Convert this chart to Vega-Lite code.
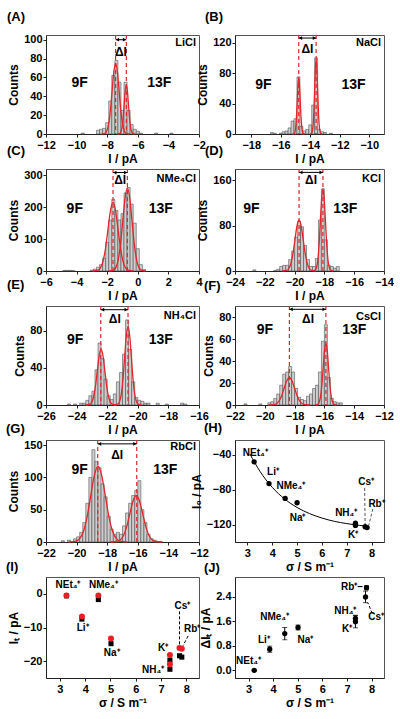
{
"$schema":"https://vega.github.io/schema/vega-lite/v6.json",
"background":"white",
"padding":{"left":5,"top":10,"right":5,"bottom":5},
"config":{"font":"Liberation Sans",
"view":{"stroke":"#555","strokeWidth":1},
"axis":{"labelFontSize":11,"labelFontWeight":"bold","labelColor":"#000","titleFontSize":12,"titleFontWeight":"bold","titleColor":"#000","grid":false,"domainColor":"#222","tickColor":"#222","tickSize":3,"labelPadding":1,"titlePadding":3,"labelFlush":false,"labelOverlap":false},
"title":{"anchor":"start","frame":"group","fontSize":13,"fontWeight":"bold","baseline":"alphabetic","color":"#000","offset":10}},
"datasets":{
"hA":[{"a":-9.7,"b":-9.5,"n":1},{"a":-8.7,"b":-8.5,"n":4},{"a":-8.5,"b":-8.3,"n":5},{"a":-8.3,"b":-8.1,"n":6},{"a":-8.1,"b":-7.9,"n":12},{"a":-7.9,"b":-7.7,"n":35},{"a":-7.7,"b":-7.5,"n":62},{"a":-7.5,"b":-7.3,"n":78},{"a":-7.3,"b":-7.1,"n":55},{"a":-7.1,"b":-6.9,"n":25},{"a":-6.9,"b":-6.7,"n":55},{"a":-6.7,"b":-6.5,"n":25},{"a":-6.5,"b":-6.3,"n":10},{"a":-6.3,"b":-6.1,"n":5},{"a":-6.1,"b":-5.9,"n":3},{"a":-5.9,"b":-5.7,"n":1},{"a":-4.9,"b":-4.7,"n":1},{"a":-3.9,"b":-3.7,"n":1}],
"fA":[{"x":-8.37,"y":0,"g":1},{"x":-8.14,"y":0.8,"g":1},{"x":-8.025,"y":3.3,"g":1},{"x":-7.91,"y":10.1,"g":1},{"x":-7.795,"y":24.4,"g":1},{"x":-7.68,"y":45.5,"g":1},{"x":-7.565,"y":66.2,"g":1},{"x":-7.45,"y":75,"g":1},{"x":-7.335,"y":66.2,"g":1},{"x":-7.22,"y":45.5,"g":1},{"x":-7.105,"y":24.4,"g":1},{"x":-6.99,"y":10.1,"g":1},{"x":-6.875,"y":3.3,"g":1},{"x":-6.76,"y":0.8,"g":1},{"x":-6.53,"y":0,"g":1},
{"x":-7.31,"y":0,"g":2},{"x":-7.17,"y":0.6,"g":2},{"x":-7.1,"y":2.3,"g":2},{"x":-7.03,"y":7,"g":2},{"x":-6.96,"y":16.9,"g":2},{"x":-6.89,"y":31.5,"g":2},{"x":-6.82,"y":45.9,"g":2},{"x":-6.75,"y":52,"g":2},{"x":-6.68,"y":45.9,"g":2},{"x":-6.61,"y":31.5,"g":2},{"x":-6.54,"y":16.9,"g":2},{"x":-6.47,"y":7,"g":2},{"x":-6.4,"y":2.3,"g":2},{"x":-6.33,"y":0.6,"g":2},{"x":-6.19,"y":0,"g":2}],
"dA":[{"p":-7.45},{"p":-6.75}],
"hB":[{"a":-16.7,"b":-16.5,"n":2},{"a":-16.5,"b":-16.3,"n":1},{"a":-16.1,"b":-15.9,"n":1},{"a":-15.9,"b":-15.7,"n":3},{"a":-15.7,"b":-15.5,"n":4},{"a":-15.5,"b":-15.3,"n":8},{"a":-15.3,"b":-15.1,"n":17},{"a":-15.1,"b":-14.9,"n":20},{"a":-14.9,"b":-14.7,"n":75},{"a":-14.7,"b":-14.5,"n":10},{"a":-14.5,"b":-14.3,"n":4},{"a":-14.3,"b":-14.1,"n":6},{"a":-14.1,"b":-13.9,"n":12},{"a":-13.9,"b":-13.7,"n":38},{"a":-13.7,"b":-13.5,"n":100},{"a":-13.5,"b":-13.3,"n":6},{"a":-13.3,"b":-13.1,"n":3},{"a":-13.1,"b":-12.9,"n":2},{"a":-12.7,"b":-12.5,"n":1}],
"fB":[{"x":-15.18,"y":0,"g":1},{"x":-15.08,"y":0.8,"g":1},{"x":-15.03,"y":3.2,"g":1},{"x":-14.98,"y":9.9,"g":1},{"x":-14.93,"y":23.7,"g":1},{"x":-14.88,"y":44.3,"g":1},{"x":-14.83,"y":64.4,"g":1},{"x":-14.78,"y":73,"g":1},{"x":-14.73,"y":64.4,"g":1},{"x":-14.68,"y":44.3,"g":1},{"x":-14.63,"y":23.7,"g":1},{"x":-14.58,"y":9.9,"g":1},{"x":-14.53,"y":3.2,"g":1},{"x":-14.48,"y":0.8,"g":1},{"x":-14.38,"y":0,"g":1},
{"x":-14.0,"y":0,"g":2},{"x":-13.9,"y":1.1,"g":2},{"x":-13.85,"y":4.3,"g":2},{"x":-13.8,"y":13.3,"g":2},{"x":-13.75,"y":31.8,"g":2},{"x":-13.7,"y":59.4,"g":2},{"x":-13.65,"y":86.5,"g":2},{"x":-13.6,"y":98,"g":2},{"x":-13.55,"y":86.5,"g":2},{"x":-13.5,"y":59.4,"g":2},{"x":-13.45,"y":31.8,"g":2},{"x":-13.4,"y":13.3,"g":2},{"x":-13.35,"y":4.3,"g":2},{"x":-13.3,"y":1.1,"g":2},{"x":-13.2,"y":0,"g":2}],
"dB":[{"p":-14.78},{"p":-13.6}],
"hC":[{"a":-4.9,"b":-4.7,"n":2},{"a":-4.7,"b":-4.5,"n":2},{"a":-4.5,"b":-4.3,"n":2},{"a":-4.3,"b":-4.1,"n":1},{"a":-3.1,"b":-2.9,"n":3},{"a":-2.9,"b":-2.7,"n":6},{"a":-2.7,"b":-2.5,"n":12},{"a":-2.5,"b":-2.3,"n":20},{"a":-2.3,"b":-2.1,"n":40},{"a":-2.1,"b":-1.9,"n":90},{"a":-1.9,"b":-1.7,"n":160},{"a":-1.7,"b":-1.5,"n":225},{"a":-1.5,"b":-1.3,"n":190},{"a":-1.3,"b":-1.1,"n":160},{"a":-1.1,"b":-0.9,"n":180},{"a":-0.9,"b":-0.7,"n":245},{"a":-0.7,"b":-0.5,"n":262},{"a":-0.5,"b":-0.3,"n":210},{"a":-0.3,"b":-0.1,"n":150},{"a":-0.1,"b":0.1,"n":70},{"a":0.1,"b":0.3,"n":20},{"a":0.3,"b":0.5,"n":5}],
"fC":[{"x":-2.94,"y":0,"g":1},{"x":-2.61,"y":2.4,"g":1},{"x":-2.445,"y":9.4,"g":1},{"x":-2.28,"y":29.1,"g":1},{"x":-2.115,"y":69.8,"g":1},{"x":-1.95,"y":130.4,"g":1},{"x":-1.785,"y":189.7,"g":1},{"x":-1.62,"y":215,"g":1},{"x":-1.455,"y":189.7,"g":1},{"x":-1.29,"y":130.4,"g":1},{"x":-1.125,"y":69.8,"g":1},{"x":-0.96,"y":29.1,"g":1},{"x":-0.795,"y":9.4,"g":1},{"x":-0.63,"y":2.4,"g":1},{"x":-0.3,"y":0,"g":1},
{"x":-1.88,"y":0,"g":2},{"x":-1.58,"y":2.9,"g":2},{"x":-1.43,"y":11.4,"g":2},{"x":-1.28,"y":35.2,"g":2},{"x":-1.13,"y":84.4,"g":2},{"x":-0.98,"y":157.7,"g":2},{"x":-0.83,"y":229.5,"g":2},{"x":-0.68,"y":260,"g":2},{"x":-0.53,"y":229.5,"g":2},{"x":-0.38,"y":157.7,"g":2},{"x":-0.23,"y":84.4,"g":2},{"x":-0.08,"y":35.2,"g":2},{"x":0.07,"y":11.4,"g":2},{"x":0.22,"y":2.9,"g":2},{"x":0.52,"y":0,"g":2}],
"dC":[{"p":-1.62},{"p":-0.68}],
"hD":[{"a":-22.8,"b":-22.6,"n":2},{"a":-21.4,"b":-21.2,"n":1},{"a":-21.2,"b":-21.0,"n":3},{"a":-21.0,"b":-20.8,"n":8},{"a":-20.8,"b":-20.6,"n":10},{"a":-20.6,"b":-20.4,"n":10},{"a":-20.4,"b":-20.2,"n":20},{"a":-20.2,"b":-20.0,"n":35},{"a":-20.0,"b":-19.8,"n":60},{"a":-19.8,"b":-19.6,"n":88},{"a":-19.6,"b":-19.4,"n":78},{"a":-19.4,"b":-19.2,"n":45},{"a":-19.2,"b":-19.0,"n":20},{"a":-19.0,"b":-18.8,"n":8},{"a":-18.8,"b":-18.6,"n":8},{"a":-18.6,"b":-18.4,"n":22},{"a":-18.4,"b":-18.2,"n":90},{"a":-18.2,"b":-18.0,"n":145},{"a":-18.0,"b":-17.8,"n":55},{"a":-17.8,"b":-17.6,"n":10},{"a":-17.6,"b":-17.4,"n":8},{"a":-17.4,"b":-17.2,"n":5},{"a":-17.2,"b":-17.0,"n":8}],
"fD":[{"x":-20.82,"y":0,"g":1},{"x":-20.54,"y":1,"g":1},{"x":-20.4,"y":4,"g":1},{"x":-20.26,"y":12.2,"g":1},{"x":-20.12,"y":29.2,"g":1},{"x":-19.98,"y":54.6,"g":1},{"x":-19.84,"y":79.4,"g":1},{"x":-19.7,"y":90,"g":1},{"x":-19.56,"y":79.4,"g":1},{"x":-19.42,"y":54.6,"g":1},{"x":-19.28,"y":29.2,"g":1},{"x":-19.14,"y":12.2,"g":1},{"x":-19.0,"y":4,"g":1},{"x":-18.86,"y":1,"g":1},{"x":-18.58,"y":0,"g":1},
{"x":-18.78,"y":0,"g":2},{"x":-18.61,"y":1.6,"g":2},{"x":-18.525,"y":6.4,"g":2},{"x":-18.44,"y":19.6,"g":2},{"x":-18.355,"y":47.1,"g":2},{"x":-18.27,"y":87.9,"g":2},{"x":-18.185,"y":128,"g":2},{"x":-18.1,"y":145,"g":2},{"x":-18.015,"y":128,"g":2},{"x":-17.93,"y":87.9,"g":2},{"x":-17.845,"y":47.1,"g":2},{"x":-17.76,"y":19.6,"g":2},{"x":-17.675,"y":6.4,"g":2},{"x":-17.59,"y":1.6,"g":2},{"x":-17.42,"y":0,"g":2}],
"dD":[{"p":-19.7},{"p":-18.1}],
"hE":[{"a":-24.6,"b":-24.4,"n":1},{"a":-24.2,"b":-24.0,"n":1},{"a":-23.8,"b":-23.6,"n":2},{"a":-23.6,"b":-23.4,"n":2},{"a":-23.4,"b":-23.2,"n":5},{"a":-23.2,"b":-23.0,"n":10},{"a":-23.0,"b":-22.8,"n":15},{"a":-22.8,"b":-22.6,"n":38},{"a":-22.6,"b":-22.4,"n":67},{"a":-22.4,"b":-22.2,"n":50},{"a":-22.2,"b":-22.0,"n":28},{"a":-22.0,"b":-21.8,"n":10},{"a":-21.8,"b":-21.6,"n":6},{"a":-21.6,"b":-21.4,"n":12},{"a":-21.4,"b":-21.2,"n":25},{"a":-21.2,"b":-21.0,"n":35},{"a":-21.0,"b":-20.8,"n":55},{"a":-20.8,"b":-20.6,"n":92},{"a":-20.6,"b":-20.4,"n":60},{"a":-20.4,"b":-20.2,"n":25},{"a":-20.2,"b":-20.0,"n":8},{"a":-20.0,"b":-19.8,"n":5},{"a":-19.8,"b":-19.6,"n":4},{"a":-19.6,"b":-19.4,"n":2},{"a":-19.4,"b":-19.2,"n":2},{"a":-18.8,"b":-18.6,"n":2},{"a":-18.2,"b":-18.0,"n":1},{"a":-17.2,"b":-17.0,"n":2},{"a":-17.0,"b":-16.8,"n":1}],
"fE":[{"x":-23.4,"y":0,"g":1},{"x":-23.15,"y":0.7,"g":1},{"x":-23.025,"y":2.6,"g":1},{"x":-22.9,"y":8.1,"g":1},{"x":-22.775,"y":19.5,"g":1},{"x":-22.65,"y":36.4,"g":1},{"x":-22.525,"y":53,"g":1},{"x":-22.4,"y":60,"g":1},{"x":-22.275,"y":53,"g":1},{"x":-22.15,"y":36.4,"g":1},{"x":-22.025,"y":19.5,"g":1},{"x":-21.9,"y":8.1,"g":1},{"x":-21.775,"y":2.6,"g":1},{"x":-21.65,"y":0.7,"g":1},{"x":-21.4,"y":0,"g":1},
{"x":-21.52,"y":0,"g":2},{"x":-21.3,"y":0.9,"g":2},{"x":-21.19,"y":3.7,"g":2},{"x":-21.08,"y":11.5,"g":2},{"x":-20.97,"y":27.6,"g":2},{"x":-20.86,"y":51.6,"g":2},{"x":-20.75,"y":75,"g":2},{"x":-20.64,"y":85,"g":2},{"x":-20.53,"y":75,"g":2},{"x":-20.42,"y":51.6,"g":2},{"x":-20.31,"y":27.6,"g":2},{"x":-20.2,"y":11.5,"g":2},{"x":-20.09,"y":3.7,"g":2},{"x":-19.98,"y":0.9,"g":2},{"x":-19.76,"y":0,"g":2}],
"dE":[{"p":-22.42},{"p":-20.64}],
"hF":[{"a":-21.4,"b":-21.2,"n":1},{"a":-20.4,"b":-20.2,"n":1},{"a":-19.8,"b":-19.6,"n":2},{"a":-19.6,"b":-19.4,"n":3},{"a":-19.4,"b":-19.2,"n":6},{"a":-19.2,"b":-19.0,"n":10},{"a":-19.0,"b":-18.8,"n":18},{"a":-18.8,"b":-18.6,"n":28},{"a":-18.6,"b":-18.4,"n":30},{"a":-18.4,"b":-18.2,"n":35},{"a":-18.2,"b":-18.0,"n":30},{"a":-18.0,"b":-17.8,"n":15},{"a":-17.8,"b":-17.6,"n":7},{"a":-17.6,"b":-17.4,"n":5},{"a":-17.4,"b":-17.2,"n":4},{"a":-17.2,"b":-17.0,"n":8},{"a":-17.0,"b":-16.8,"n":10},{"a":-16.8,"b":-16.6,"n":15},{"a":-16.6,"b":-16.4,"n":18},{"a":-16.4,"b":-16.2,"n":30},{"a":-16.2,"b":-16.0,"n":58},{"a":-16.0,"b":-15.8,"n":73},{"a":-15.8,"b":-15.6,"n":25},{"a":-15.6,"b":-15.4,"n":6},{"a":-15.4,"b":-15.2,"n":3},{"a":-15.2,"b":-15.0,"n":2},{"a":-15.0,"b":-14.8,"n":2}],
"fF":[{"x":-19.75,"y":0,"g":1},{"x":-19.4,"y":0.3,"g":1},{"x":-19.225,"y":1.1,"g":1},{"x":-19.05,"y":3.4,"g":1},{"x":-18.875,"y":8.1,"g":1},{"x":-18.7,"y":15.2,"g":1},{"x":-18.525,"y":22.1,"g":1},{"x":-18.35,"y":25,"g":1},{"x":-18.175,"y":22.1,"g":1},{"x":-18.0,"y":15.2,"g":1},{"x":-17.825,"y":8.1,"g":1},{"x":-17.65,"y":3.4,"g":1},{"x":-17.475,"y":1.1,"g":1},{"x":-17.3,"y":0.3,"g":1},{"x":-16.95,"y":0,"g":1},
{"x":-16.62,"y":0,"g":2},{"x":-16.44,"y":0.6,"g":2},{"x":-16.35,"y":2.5,"g":2},{"x":-16.26,"y":7.6,"g":2},{"x":-16.17,"y":18.2,"g":2},{"x":-16.08,"y":34,"g":2},{"x":-15.99,"y":49.4,"g":2},{"x":-15.9,"y":56,"g":2},{"x":-15.81,"y":49.4,"g":2},{"x":-15.72,"y":34,"g":2},{"x":-15.63,"y":18.2,"g":2},{"x":-15.54,"y":7.6,"g":2},{"x":-15.45,"y":2.5,"g":2},{"x":-15.36,"y":0.6,"g":2},{"x":-15.18,"y":0,"g":2}],
"dF":[{"p":-18.35},{"p":-15.9}],
"hG":[{"a":-21.0,"b":-20.8,"n":2},{"a":-20.6,"b":-20.4,"n":3},{"a":-20.2,"b":-20.0,"n":5},{"a":-20.0,"b":-19.8,"n":8},{"a":-19.8,"b":-19.6,"n":15},{"a":-19.6,"b":-19.4,"n":30},{"a":-19.4,"b":-19.2,"n":60},{"a":-19.2,"b":-19.0,"n":100},{"a":-19.0,"b":-18.8,"n":143},{"a":-18.8,"b":-18.6,"n":125},{"a":-18.6,"b":-18.4,"n":115},{"a":-18.4,"b":-18.2,"n":90},{"a":-18.2,"b":-18.0,"n":70},{"a":-18.0,"b":-17.8,"n":40},{"a":-17.8,"b":-17.6,"n":20},{"a":-17.6,"b":-17.4,"n":12},{"a":-17.4,"b":-17.2,"n":15},{"a":-17.2,"b":-17.0,"n":12},{"a":-17.0,"b":-16.8,"n":25},{"a":-16.8,"b":-16.6,"n":45},{"a":-16.6,"b":-16.4,"n":60},{"a":-16.4,"b":-16.2,"n":72},{"a":-16.2,"b":-16.0,"n":80},{"a":-16.0,"b":-15.8,"n":95},{"a":-15.8,"b":-15.6,"n":50},{"a":-15.6,"b":-15.4,"n":30},{"a":-15.4,"b":-15.2,"n":12},{"a":-15.2,"b":-15.0,"n":5},{"a":-15.0,"b":-14.8,"n":3},{"a":-14.6,"b":-14.4,"n":1}],
"fG":[{"x":-20.52,"y":0,"g":1},{"x":-20.04,"y":1.3,"g":1},{"x":-19.8,"y":5.1,"g":1},{"x":-19.56,"y":15.8,"g":1},{"x":-19.32,"y":38,"g":1},{"x":-19.08,"y":71,"g":1},{"x":-18.84,"y":103.3,"g":1},{"x":-18.6,"y":117,"g":1},{"x":-18.36,"y":103.3,"g":1},{"x":-18.12,"y":71,"g":1},{"x":-17.88,"y":38,"g":1},{"x":-17.64,"y":15.8,"g":1},{"x":-17.4,"y":5.1,"g":1},{"x":-17.16,"y":1.3,"g":1},{"x":-16.68,"y":0,"g":1},
{"x":-17.78,"y":0,"g":2},{"x":-17.36,"y":0.8,"g":2},{"x":-17.15,"y":3.2,"g":2},{"x":-16.94,"y":9.7,"g":2},{"x":-16.73,"y":23.4,"g":2},{"x":-16.52,"y":43.7,"g":2},{"x":-16.31,"y":63.5,"g":2},{"x":-16.1,"y":72,"g":2},{"x":-15.89,"y":63.5,"g":2},{"x":-15.68,"y":43.7,"g":2},{"x":-15.47,"y":23.4,"g":2},{"x":-15.26,"y":9.7,"g":2},{"x":-15.05,"y":3.2,"g":2},{"x":-14.84,"y":0.8,"g":2},{"x":-14.42,"y":0,"g":2}],
"dG":[{"p":-18.62},{"p":-16.07}],
"cH":[{"s":3.1,"v":-39},{"s":3.5,"v":-58.7},{"s":4.0,"v":-77.3},{"s":4.5,"v":-90.7},{"s":5.0,"v":-100.4},{"s":5.5,"v":-107.4},{"s":6.0,"v":-112.5},{"s":6.5,"v":-116.3},{"s":7.0,"v":-118.9},{"s":7.5,"v":-120.9},{"s":7.8,"v":-121.8}],
"pH":[{"s":3.27,"v":-48},{"s":3.87,"v":-73},{"s":4.52,"v":-90},{"s":5.0,"v":-95},{"s":7.35,"v":-118.5},{"s":7.35,"v":-121},{"s":7.74,"v":-122.5},{"s":7.82,"v":-123.5}],
"gH":[{"x1":7.72,"y1":-78,"x2":7.74,"y2":-120},{"x1":8.05,"y1":-102,"x2":7.88,"y2":-121.5}],
"lH":[{"t":"NEt₄⁺","x":3.32,"y":-38},{"t":"Li⁺","x":4.03,"y":-60},{"t":"NMe₄⁺","x":4.75,"y":-76},{"t":"Na⁺","x":5.02,"y":-112},{"t":"NH₄⁺","x":6.98,"y":-107},{"t":"K⁺","x":7.26,"y":-132},{"t":"Cs⁺","x":7.78,"y":-71},{"t":"Rb⁺","x":8.2,"y":-96}],
"pI":[{"s":3.26,"r":-0.5,"b":-0.6},{"s":3.87,"r":-6.7,"b":-7.5},{"s":4.52,"r":-0.5,"b":-1.7},{"s":5.02,"r":-13.3,"b":-14.8},{"s":7.35,"r":-18.2,"b":-19.7},{"s":7.35,"r":-20.9,"b":-22.4},{"s":7.73,"r":-16.1,"b":-18.4},{"s":7.82,"r":-16.3,"b":-18.8}],
"gI":[{"x1":7.73,"y1":-5.2,"x2":7.73,"y2":-15.3},{"x1":8.07,"y1":-12.5,"x2":7.87,"y2":-15.4}],
"lI":[{"t":"NEt₄⁺","x":3.32,"y":2.5},{"t":"NMe₄⁺","x":4.72,"y":2.5},{"t":"Li⁺","x":3.9,"y":-10},{"t":"Na⁺","x":5.05,"y":-17.5},{"t":"K⁺","x":7.08,"y":-16},{"t":"NH₄⁺","x":6.69,"y":-22.5},{"t":"Cs⁺","x":7.84,"y":-3.5},{"t":"Rb⁺","x":8.23,"y":-10.5}],
"pJ":[{"s":3.23,"d":0.0,"e":0.02},{"s":3.86,"d":0.69,"e":0.1},{"s":4.47,"d":1.2,"e":0.2},{"s":5.01,"d":1.4,"e":0.08},{"s":7.34,"d":1.7,"e":0.1},{"s":7.34,"d":1.59,"e":0.2},{"s":7.75,"d":2.4,"e":0.19},{"s":7.79,"d":2.7,"e":0.07}],
"gJ":[{"x1":8.02,"y1":1.86,"x2":7.84,"y2":2.22}],
"lJ":[{"t":"NEt₄⁺","x":3.0,"y":0.29},{"t":"Li⁺","x":3.62,"y":1.0},{"t":"NMe₄⁺","x":4.06,"y":1.75},{"t":"Na⁺","x":5.31,"y":1.0},{"t":"NH₄⁺","x":6.93,"y":1.94},{"t":"K⁺","x":7.0,"y":1.35},{"t":"Rb⁺–","x":7.2,"y":2.73},{"t":"Cs⁺","x":8.18,"y":1.73}]
},
"columns":2,
"spacing":{"row":35,"column":36},
"bounds":"flush",
"align":"each",
"concat":[
{"width":153,"height":99,"title":{"text":"(A)","dx":-39,"offset":10},"data":{"values":[{}]},
"layer":[
{"data":{"name":"hA"},"mark":{"type":"bar","fill":"#cdcdcd","stroke":"#3c3c3c","strokeWidth":0.5},"encoding":{"x":{"field":"a","type":"quantitative","scale":{"domain":[-12,-2],"nice":false,"zero":false},"axis":{"values":[-12,-10,-8,-6,-4,-2],"tickCount":20,"format":"d","title":"I / pA","labelOverlap":false,"labelFlush":false,"labelPadding":2}},"x2":{"field":"b"},"y":{"field":"n","type":"quantitative","stack":null,"scale":{"domain":[0,105],"nice":false},"axis":{"values":[0,20,40,60,80,100],"tickCount":20,"format":"d","title":"Counts","labelOverlap":false,"labelFlush":false}},"y2":{"datum":0}}},
{"data":{"name":"fA"},"mark":{"type":"line","color":"#e3262b","strokeWidth":1.3,"interpolate":"monotone"},"encoding":{"x":{"field":"x","type":"quantitative"},"y":{"field":"y","type":"quantitative"},"detail":{"field":"g"}}},
{"data":{"name":"dA"},"mark":{"type":"rule","color":"#e3262b","strokeDash":[4,3],"strokeWidth":1.2},"encoding":{"x":{"field":"p","type":"quantitative"}}},
{"mark":{"type":"rule","color":"#000","strokeWidth":1},"encoding":{"x":{"datum":-7.45},"x2":{"datum":-6.75},"y":{"datum":100}}},
{"mark":{"type":"point","shape":"triangle-left","filled":true,"color":"#000","size":14,"opacity":1},"encoding":{"x":{"datum":-7.33},"y":{"datum":100}}},
{"mark":{"type":"point","shape":"triangle-right","filled":true,"color":"#000","size":14,"opacity":1},"encoding":{"x":{"datum":-6.87},"y":{"datum":100}}},
{"mark":{"type":"text","text":"9F","fontSize":14,"fontWeight":"bold"},"encoding":{"x":{"datum":-9.8},"y":{"datum":54}}},
{"mark":{"type":"text","text":"13F","fontSize":14,"fontWeight":"bold"},"encoding":{"x":{"datum":-4.6},"y":{"datum":54}}},
{"mark":{"type":"text","text":"ΔI","fontSize":12,"fontWeight":"bold"},"encoding":{"x":{"datum":-7.1},"y":{"datum":87}}},
{"mark":{"type":"text","text":"LiCl","fontSize":11,"fontWeight":"bold","align":"right","dx":-3},"encoding":{"x":{"datum":-2},"y":{"datum":96}}}
]},
{"width":149,"height":99,"title":{"text":"(B)","dx":-30,"offset":10},"data":{"values":[{}]},
"layer":[
{"data":{"name":"hB"},"mark":{"type":"bar","fill":"#cdcdcd","stroke":"#3c3c3c","strokeWidth":0.5},"encoding":{"x":{"field":"a","type":"quantitative","scale":{"domain":[-19.1,-9],"nice":false,"zero":false},"axis":{"values":[-18,-16,-14,-12,-10],"tickCount":20,"format":"d","title":"I / pA","labelOverlap":false,"labelFlush":false,"labelPadding":2}},"x2":{"field":"b"},"y":{"field":"n","type":"quantitative","stack":null,"scale":{"domain":[0,130],"nice":false},"axis":{"values":[0,40,80,120],"tickCount":20,"format":"d","title":"Counts","labelOverlap":false,"labelFlush":false}},"y2":{"datum":0}}},
{"data":{"name":"fB"},"mark":{"type":"line","color":"#e3262b","strokeWidth":1.3,"interpolate":"monotone"},"encoding":{"x":{"field":"x","type":"quantitative"},"y":{"field":"y","type":"quantitative"},"detail":{"field":"g"}}},
{"data":{"name":"dB"},"mark":{"type":"rule","color":"#e3262b","strokeDash":[4,3],"strokeWidth":1.2},"encoding":{"x":{"field":"p","type":"quantitative"}}},
{"mark":{"type":"rule","color":"#000","strokeWidth":1},"encoding":{"x":{"datum":-14.78},"x2":{"datum":-13.6},"y":{"datum":126}}},
{"mark":{"type":"point","shape":"triangle-left","filled":true,"color":"#000","size":14,"opacity":1},"encoding":{"x":{"datum":-14.66},"y":{"datum":126}}},
{"mark":{"type":"point","shape":"triangle-right","filled":true,"color":"#000","size":14,"opacity":1},"encoding":{"x":{"datum":-13.72},"y":{"datum":126}}},
{"mark":{"type":"text","text":"9F","fontSize":14,"fontWeight":"bold"},"encoding":{"x":{"datum":-17.17},"y":{"datum":64}}},
{"mark":{"type":"text","text":"13F","fontSize":14,"fontWeight":"bold"},"encoding":{"x":{"datum":-11.07},"y":{"datum":64}}},
{"mark":{"type":"text","text":"ΔI","fontSize":12,"fontWeight":"bold"},"encoding":{"x":{"datum":-14.19},"y":{"datum":112}}},
{"mark":{"type":"text","text":"NaCl","fontSize":11,"fontWeight":"bold","align":"right","dx":-3},"encoding":{"x":{"datum":-9},"y":{"datum":120}}}
]},
{"width":153,"height":102,"title":{"text":"(C)","dx":-39,"offset":10},"data":{"values":[{}]},
"layer":[
{"data":{"name":"hC"},"mark":{"type":"bar","fill":"#cdcdcd","stroke":"#3c3c3c","strokeWidth":0.5},"encoding":{"x":{"field":"a","type":"quantitative","scale":{"domain":[-6,4],"nice":false,"zero":false},"axis":{"values":[-6,-4,-2,0,2,4],"tickCount":20,"format":"d","title":"I / pA","labelOverlap":false,"labelFlush":false,"labelPadding":2}},"x2":{"field":"b"},"y":{"field":"n","type":"quantitative","stack":null,"scale":{"domain":[0,320],"nice":false},"axis":{"values":[0,100,200,300],"tickCount":20,"format":"d","title":"Counts","labelOverlap":false,"labelFlush":false}},"y2":{"datum":0}}},
{"data":{"name":"fC"},"mark":{"type":"line","color":"#e3262b","strokeWidth":1.3,"interpolate":"monotone"},"encoding":{"x":{"field":"x","type":"quantitative"},"y":{"field":"y","type":"quantitative"},"detail":{"field":"g"}}},
{"data":{"name":"dC"},"mark":{"type":"rule","color":"#e3262b","strokeDash":[4,3],"strokeWidth":1.2},"encoding":{"x":{"field":"p","type":"quantitative"}}},
{"mark":{"type":"rule","color":"#000","strokeWidth":1},"encoding":{"x":{"datum":-1.62},"x2":{"datum":-0.68},"y":{"datum":309}}},
{"mark":{"type":"point","shape":"triangle-left","filled":true,"color":"#000","size":14,"opacity":1},"encoding":{"x":{"datum":-1.5},"y":{"datum":309}}},
{"mark":{"type":"point","shape":"triangle-right","filled":true,"color":"#000","size":14,"opacity":1},"encoding":{"x":{"datum":-0.8},"y":{"datum":309}}},
{"mark":{"type":"text","text":"9F","fontSize":14,"fontWeight":"bold"},"encoding":{"x":{"datum":-4.12},"y":{"datum":196}}},
{"mark":{"type":"text","text":"13F","fontSize":14,"fontWeight":"bold"},"encoding":{"x":{"datum":1.5},"y":{"datum":196}}},
{"mark":{"type":"text","text":"ΔI","fontSize":12,"fontWeight":"bold"},"encoding":{"x":{"datum":-1.15},"y":{"datum":285}}},
{"mark":{"type":"text","text":"NMe₄Cl","fontSize":11,"fontWeight":"bold","align":"right","dx":-3},"encoding":{"x":{"datum":4},"y":{"datum":290}}}
]},
{"width":149,"height":102,"title":{"text":"(D)","dx":-30,"offset":10},"data":{"values":[{}]},
"layer":[
{"data":{"name":"hD"},"mark":{"type":"bar","fill":"#cdcdcd","stroke":"#3c3c3c","strokeWidth":0.5},"encoding":{"x":{"field":"a","type":"quantitative","scale":{"domain":[-24,-14],"nice":false,"zero":false},"axis":{"values":[-24,-22,-20,-18,-16,-14],"tickCount":20,"format":"d","title":"I / pA","labelOverlap":false,"labelFlush":false,"labelPadding":2}},"x2":{"field":"b"},"y":{"field":"n","type":"quantitative","stack":null,"scale":{"domain":[0,180],"nice":false},"axis":{"values":[0,80,160],"tickCount":20,"format":"d","title":"Counts","labelOverlap":false,"labelFlush":false}},"y2":{"datum":0}}},
{"data":{"name":"fD"},"mark":{"type":"line","color":"#e3262b","strokeWidth":1.3,"interpolate":"monotone"},"encoding":{"x":{"field":"x","type":"quantitative"},"y":{"field":"y","type":"quantitative"},"detail":{"field":"g"}}},
{"data":{"name":"dD"},"mark":{"type":"rule","color":"#e3262b","strokeDash":[4,3],"strokeWidth":1.2},"encoding":{"x":{"field":"p","type":"quantitative"}}},
{"mark":{"type":"rule","color":"#000","strokeWidth":1},"encoding":{"x":{"datum":-19.7},"x2":{"datum":-18.1},"y":{"datum":174}}},
{"mark":{"type":"point","shape":"triangle-left","filled":true,"color":"#000","size":14,"opacity":1},"encoding":{"x":{"datum":-19.58},"y":{"datum":174}}},
{"mark":{"type":"point","shape":"triangle-right","filled":true,"color":"#000","size":14,"opacity":1},"encoding":{"x":{"datum":-18.22},"y":{"datum":174}}},
{"mark":{"type":"text","text":"9F","fontSize":14,"fontWeight":"bold"},"encoding":{"x":{"datum":-22.9},"y":{"datum":110}}},
{"mark":{"type":"text","text":"13F","fontSize":14,"fontWeight":"bold"},"encoding":{"x":{"datum":-16.6},"y":{"datum":110}}},
{"mark":{"type":"text","text":"ΔI","fontSize":12,"fontWeight":"bold"},"encoding":{"x":{"datum":-18.9},"y":{"datum":160}}},
{"mark":{"type":"text","text":"KCl","fontSize":11,"fontWeight":"bold","align":"right","dx":-3},"encoding":{"x":{"datum":-14},"y":{"datum":163}}}
]},
{"width":153,"height":99,"title":{"text":"(E)","dx":-39,"offset":13},"data":{"values":[{}]},
"layer":[
{"data":{"name":"hE"},"mark":{"type":"bar","fill":"#cdcdcd","stroke":"#3c3c3c","strokeWidth":0.5},"encoding":{"x":{"field":"a","type":"quantitative","scale":{"domain":[-26,-16],"nice":false,"zero":false},"axis":{"values":[-26,-24,-22,-20,-18,-16],"tickCount":20,"format":"d","title":"I / pA","labelOverlap":false,"labelFlush":false,"labelPadding":2}},"x2":{"field":"b"},"y":{"field":"n","type":"quantitative","stack":null,"scale":{"domain":[0,107],"nice":false},"axis":{"values":[0,40,80],"tickCount":20,"format":"d","title":"Counts","labelOverlap":false,"labelFlush":false}},"y2":{"datum":0}}},
{"data":{"name":"fE"},"mark":{"type":"line","color":"#e3262b","strokeWidth":1.3,"interpolate":"monotone"},"encoding":{"x":{"field":"x","type":"quantitative"},"y":{"field":"y","type":"quantitative"},"detail":{"field":"g"}}},
{"data":{"name":"dE"},"mark":{"type":"rule","color":"#e3262b","strokeDash":[4,3],"strokeWidth":1.2},"encoding":{"x":{"field":"p","type":"quantitative"}}},
{"mark":{"type":"rule","color":"#000","strokeWidth":1},"encoding":{"x":{"datum":-22.42},"x2":{"datum":-20.64},"y":{"datum":103}}},
{"mark":{"type":"point","shape":"triangle-left","filled":true,"color":"#000","size":14,"opacity":1},"encoding":{"x":{"datum":-22.3},"y":{"datum":103}}},
{"mark":{"type":"point","shape":"triangle-right","filled":true,"color":"#000","size":14,"opacity":1},"encoding":{"x":{"datum":-20.76},"y":{"datum":103}}},
{"mark":{"type":"text","text":"9F","fontSize":14,"fontWeight":"bold"},"encoding":{"x":{"datum":-24.1},"y":{"datum":70}}},
{"mark":{"type":"text","text":"13F","fontSize":14,"fontWeight":"bold"},"encoding":{"x":{"datum":-18.5},"y":{"datum":70}}},
{"mark":{"type":"text","text":"ΔI","fontSize":12,"fontWeight":"bold"},"encoding":{"x":{"datum":-21.5},"y":{"datum":93}}},
{"mark":{"type":"text","text":"NH₄Cl","fontSize":11,"fontWeight":"bold","align":"right","dx":-3},"encoding":{"x":{"datum":-16},"y":{"datum":96}}}
]},
{"width":149,"height":99,"title":{"text":"(F)","dx":-31,"offset":12},"data":{"values":[{}]},
"layer":[
{"data":{"name":"hF"},"mark":{"type":"bar","fill":"#cdcdcd","stroke":"#3c3c3c","strokeWidth":0.5},"encoding":{"x":{"field":"a","type":"quantitative","scale":{"domain":[-22,-12],"nice":false,"zero":false},"axis":{"values":[-22,-20,-18,-16,-14,-12],"tickCount":20,"format":"d","title":"I / pA","labelOverlap":false,"labelFlush":false,"labelPadding":2}},"x2":{"field":"b"},"y":{"field":"n","type":"quantitative","stack":null,"scale":{"domain":[0,90],"nice":false},"axis":{"values":[0,20,40,60,80],"tickCount":20,"format":"d","title":"Counts","labelOverlap":false,"labelFlush":false}},"y2":{"datum":0}}},
{"data":{"name":"fF"},"mark":{"type":"line","color":"#e3262b","strokeWidth":1.3,"interpolate":"monotone"},"encoding":{"x":{"field":"x","type":"quantitative"},"y":{"field":"y","type":"quantitative"},"detail":{"field":"g"}}},
{"data":{"name":"dF"},"mark":{"type":"rule","color":"#e3262b","strokeDash":[4,3],"strokeWidth":1.2},"encoding":{"x":{"field":"p","type":"quantitative"}}},
{"mark":{"type":"rule","color":"#000","strokeWidth":1},"encoding":{"x":{"datum":-18.35},"x2":{"datum":-15.9},"y":{"datum":87}}},
{"mark":{"type":"point","shape":"triangle-left","filled":true,"color":"#000","size":14,"opacity":1},"encoding":{"x":{"datum":-18.23},"y":{"datum":87}}},
{"mark":{"type":"point","shape":"triangle-right","filled":true,"color":"#000","size":14,"opacity":1},"encoding":{"x":{"datum":-16.02},"y":{"datum":87}}},
{"mark":{"type":"text","text":"9F","fontSize":14,"fontWeight":"bold"},"encoding":{"x":{"datum":-20.0},"y":{"datum":68}}},
{"mark":{"type":"text","text":"13F","fontSize":14,"fontWeight":"bold"},"encoding":{"x":{"datum":-14.0},"y":{"datum":68}}},
{"mark":{"type":"text","text":"ΔI","fontSize":12,"fontWeight":"bold"},"encoding":{"x":{"datum":-17.1},"y":{"datum":78}}},
{"mark":{"type":"text","text":"CsCl","fontSize":11,"fontWeight":"bold","align":"right","dx":-3},"encoding":{"x":{"datum":-12},"y":{"datum":80}}}
]},
{"width":153,"height":102,"title":{"text":"(G)","dx":-40,"offset":3},"data":{"values":[{}]},
"layer":[
{"data":{"name":"hG"},"mark":{"type":"bar","fill":"#cdcdcd","stroke":"#3c3c3c","strokeWidth":0.5},"encoding":{"x":{"field":"a","type":"quantitative","scale":{"domain":[-22,-12],"nice":false,"zero":false},"axis":{"values":[-22,-20,-18,-16,-14,-12],"tickCount":20,"format":"d","title":"I / pA","labelOverlap":false,"labelFlush":false,"labelPadding":2}},"x2":{"field":"b"},"y":{"field":"n","type":"quantitative","stack":null,"scale":{"domain":[0,158],"nice":false},"axis":{"values":[0,50,100,150],"tickCount":20,"format":"d","title":"Counts","labelOverlap":false,"labelFlush":false}},"y2":{"datum":0}}},
{"data":{"name":"fG"},"mark":{"type":"line","color":"#e3262b","strokeWidth":1.3,"interpolate":"monotone"},"encoding":{"x":{"field":"x","type":"quantitative"},"y":{"field":"y","type":"quantitative"},"detail":{"field":"g"}}},
{"data":{"name":"dG"},"mark":{"type":"rule","color":"#e3262b","strokeDash":[4,3],"strokeWidth":1.2},"encoding":{"x":{"field":"p","type":"quantitative"}}},
{"mark":{"type":"rule","color":"#000","strokeWidth":1},"encoding":{"x":{"datum":-18.62},"x2":{"datum":-16.07},"y":{"datum":152}}},
{"mark":{"type":"point","shape":"triangle-left","filled":true,"color":"#000","size":14,"opacity":1},"encoding":{"x":{"datum":-18.5},"y":{"datum":152}}},
{"mark":{"type":"point","shape":"triangle-right","filled":true,"color":"#000","size":14,"opacity":1},"encoding":{"x":{"datum":-16.19},"y":{"datum":152}}},
{"mark":{"type":"text","text":"9F","fontSize":14,"fontWeight":"bold"},"encoding":{"x":{"datum":-19.8},"y":{"datum":112}}},
{"mark":{"type":"text","text":"13F","fontSize":14,"fontWeight":"bold"},"encoding":{"x":{"datum":-14.2},"y":{"datum":112}}},
{"mark":{"type":"text","text":"ΔI","fontSize":12,"fontWeight":"bold"},"encoding":{"x":{"datum":-17.35},"y":{"datum":134}}},
{"mark":{"type":"text","text":"RbCl","fontSize":11,"fontWeight":"bold","align":"right","dx":-3},"encoding":{"x":{"datum":-12},"y":{"datum":147}}}
]},
{"width":149,"height":102,"title":{"text":"(H)","dx":-31,"offset":5},
"layer":[
{"data":{"name":"cH"},"mark":{"type":"line","color":"#000","strokeWidth":1,"interpolate":"monotone"},"encoding":{"x":{"field":"s","type":"quantitative","scale":{"domain":[2.5,8.5],"nice":false,"zero":false},"axis":{"values":[3,4,5,6,7,8],"tickCount":20,"format":"d","title":"σ / S m⁻¹","labelOverlap":false,"labelFlush":false,"labelPadding":2}},"y":{"field":"v","type":"quantitative","scale":{"domain":[-140,-23],"nice":false,"zero":false},"axis":{"values":[-40,-80,-120],"tickCount":20,"format":"d","title":"I₀ / pA","labelOverlap":false,"labelFlush":false}}}},
{"data":{"name":"gH"},"mark":{"type":"rule","color":"#555","strokeDash":[3,2],"strokeWidth":1},"encoding":{"x":{"field":"x1","type":"quantitative"},"y":{"field":"y1","type":"quantitative"},"x2":{"field":"x2"},"y2":{"field":"y2"}}},
{"data":{"name":"pH"},"mark":{"type":"point","filled":true,"color":"#000","size":28,"opacity":1},"encoding":{"x":{"field":"s","type":"quantitative"},"y":{"field":"v","type":"quantitative"}}},
{"data":{"name":"lH"},"mark":{"type":"text","fontSize":10,"fontWeight":"bold"},"encoding":{"x":{"field":"x","type":"quantitative"},"y":{"field":"y","type":"quantitative"},"text":{"field":"t"}}}
]},
{"width":153,"height":101,"title":{"text":"(I)","dx":-40,"offset":3},
"layer":[
{"data":{"name":"pI"},"mark":{"type":"point","shape":"square","filled":true,"color":"#000","size":26,"opacity":1},"encoding":{"x":{"field":"s","type":"quantitative","scale":{"domain":[2.45,8.5],"nice":false,"zero":false},"axis":{"values":[3,4,5,6,7,8],"tickCount":20,"format":"d","title":"σ / S m⁻¹","labelOverlap":false,"labelFlush":false,"labelPadding":2}},"y":{"field":"b","type":"quantitative","scale":{"domain":[-25,5],"nice":false,"zero":false},"axis":{"values":[0,-10,-20],"tickCount":20,"format":"d","title":"Iₜ / pA","labelOverlap":false,"labelFlush":false}}}},
{"data":{"name":"pI"},"mark":{"type":"point","shape":"circle","filled":true,"color":"#ee1c24","size":36,"opacity":1},"encoding":{"x":{"field":"s","type":"quantitative"},"y":{"field":"r","type":"quantitative"}}},
{"data":{"name":"gI"},"mark":{"type":"rule","color":"#000","strokeDash":[3,2],"strokeWidth":1},"encoding":{"x":{"field":"x1","type":"quantitative"},"y":{"field":"y1","type":"quantitative"},"x2":{"field":"x2"},"y2":{"field":"y2"}}},
{"data":{"name":"lI"},"mark":{"type":"text","fontSize":10,"fontWeight":"bold"},"encoding":{"x":{"field":"x","type":"quantitative"},"y":{"field":"y","type":"quantitative"},"text":{"field":"t"}}}
]},
{"width":149,"height":101,"title":{"text":"(J)","dx":-31,"offset":2},
"layer":[
{"data":{"name":"pJ"},"mark":{"type":"point","filled":true,"color":"#000","size":28,"opacity":1},"encoding":{"x":{"field":"s","type":"quantitative","scale":{"domain":[2.45,8.5],"nice":false,"zero":false},"axis":{"values":[3,4,5,6,7,8],"tickCount":20,"format":"d","title":"σ / S m⁻¹","labelOverlap":false,"labelFlush":false,"labelPadding":2}},"y":{"field":"d","type":"quantitative","scale":{"domain":[-0.25,3.05],"nice":false,"zero":false},"axis":{"values":[0,0.8,1.6,2.4],"tickCount":20,"format":".1f","title":"ΔIₜ / pA","labelOverlap":false,"labelFlush":false}}}},
{"data":{"name":"pJ"},"mark":{"type":"errorbar","ticks":{"size":5},"color":"#000"},"encoding":{"x":{"field":"s","type":"quantitative"},"y":{"field":"d","type":"quantitative","title":"ΔIₜ / pA"},"yError":{"field":"e"}}},
{"data":{"name":"gJ"},"mark":{"type":"rule","color":"#000","strokeDash":[3,2],"strokeWidth":1},"encoding":{"x":{"field":"x1","type":"quantitative"},"y":{"field":"y1","type":"quantitative"},"x2":{"field":"x2"},"y2":{"field":"y2"}}},
{"data":{"name":"lJ"},"mark":{"type":"text","fontSize":10,"fontWeight":"bold"},"encoding":{"x":{"field":"x","type":"quantitative"},"y":{"field":"y","type":"quantitative"},"text":{"field":"t"}}}
]}
]
}
